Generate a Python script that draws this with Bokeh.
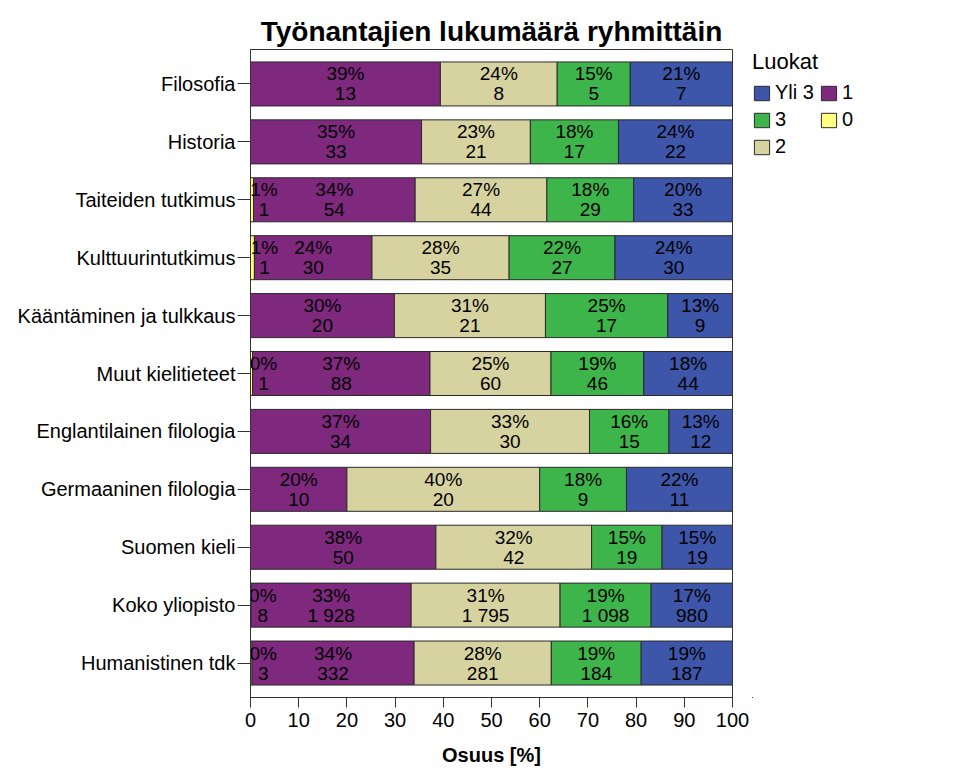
from bokeh.plotting import figure
from bokeh.layouts import row
from bokeh.models import ColumnDataSource, FactorRange, FixedTicker, Legend, LegendItem, Range1d
from bokeh.core.properties import value
from bokeh.embed import file_html
from bokeh.resources import INLINE

# ---- data ----
categories = ["Filosofia", "Historia", "Taiteiden tutkimus", "Kulttuurintutkimus",
              "Kääntäminen ja tulkkaus", "Muut kielitieteet", "Englantilainen filologia",
              "Germaaninen filologia", "Suomen kieli", "Koko yliopisto", "Humanistinen tdk"]
count_0 = [0, 0, 1, 1, 0, 1, 0, 0, 0, 8, 3]
count_1 = [13, 33, 54, 30, 20, 88, 34, 10, 50, 1928, 332]
count_2 = [8, 21, 44, 35, 21, 60, 30, 20, 42, 1795, 281]
count_3 = [5, 17, 29, 27, 17, 46, 15, 9, 19, 1098, 184]
count_yli3 = [7, 22, 33, 30, 9, 44, 12, 11, 19, 980, 187]
class_names = ["0", "1", "2", "3", "Yli 3"]
class_colors = ["#FFFF80", "#7E287E", "#D6D3A1", "#3DB54A", "#3D56AA"]
x_ticks = [0, 10, 20, 30, 40, 50, 60, 70, 80, 90, 100]

series = [count_0, count_1, count_2, count_3, count_yli3]
totals = [sum(s[i] for s in series) for i in range(len(categories))]

FONT = "Liberation Sans"
H = 768

p = figure(width=752, height=H, output_backend="svg", toolbar_location=None,
           y_range=FactorRange(factors=categories[::-1], range_padding=0.0173),
           x_range=Range1d(0, 100),
           min_border_left=250, min_border_right=20, min_border_top=49, min_border_bottom=71)

p.title.text = "Työnantajien lukumäärä ryhmittäin"
p.title.align = "center"
p.title.text_font = FONT
p.title.text_font_size = "28px"
p.title.text_font_style = "bold"
p.title.text_color = "black"
p.title.standoff = 5

def fmt(n):
    return f"{n:,}".replace(",", " ")

bar_sources = {}
label_sources = []
cum = [0.0] * len(categories)
for name, counts, color in zip(class_names, series, class_colors):
    left, right, cats = [], [], []
    lab_mid, lab_cat, lab_p, lab_c = [], [], [], []
    for i, c in enumerate(categories):
        pct = 100.0 * counts[i] / totals[i]
        l = cum[i]
        r = l + pct
        cum[i] = r
        left.append(l); right.append(r); cats.append(c)
        if counts[i] > 0:
            lab_mid.append((l + r) / 2); lab_cat.append(c)
            lab_p.append(f"{pct:.0f}%"); lab_c.append(fmt(counts[i]))
    src = ColumnDataSource(dict(cat=cats, left=left, right=right))
    bar_sources[name] = (src, color)
    p.hbar(y="cat", left="left", right="right", height=0.76, source=src,
           fill_color=color, line_color="#2a2a2a", line_width=1)
    label_sources.append((name, ColumnDataSource(dict(cat=lab_cat, mid=lab_mid, pct=lab_p, cnt=lab_c))))

for name, lsrc in label_sources:
    # labels of the very thin first segment are nudged right, as in the original
    xo = 12 if name == "0" else 0
    p.text(x="mid", y="cat", text="pct", source=lsrc, text_align="center",
           text_baseline="middle", x_offset=xo, y_offset=-10, text_font=value(FONT),
           text_font_size="19px", text_color="black")
    p.text(x="mid", y="cat", text="cnt", source=lsrc, text_align="center",
           text_baseline="middle", x_offset=xo, y_offset=10, text_font=value(FONT),
           text_font_size="19px", text_color="black")

# axes
p.xgrid.visible = False
p.ygrid.visible = False
p.outline_line_color = "#333333"
p.outline_line_width = 1

p.xaxis.ticker = FixedTicker(ticks=x_ticks)
p.xaxis.major_tick_out = 10
p.xaxis.major_tick_in = 0
p.xaxis.minor_tick_out = 0
p.xaxis.minor_tick_in = 0
p.xaxis.axis_line_color = "#333333"
p.xaxis.major_tick_line_color = "#333333"
p.xaxis.major_label_text_font = FONT
p.xaxis.major_label_text_font_size = "20px"
p.xaxis.major_label_text_color = "black"
p.xaxis.major_label_standoff = 5
p.xaxis.axis_label = "Osuus [%]"
p.xaxis.axis_label_text_font = FONT
p.xaxis.axis_label_text_font_size = "20px"
p.xaxis.axis_label_text_font_style = "bold"
p.xaxis.axis_label_text_color = "black"
p.xaxis.axis_label_standoff = 14

p.yaxis.major_tick_out = 13
p.yaxis.major_tick_in = 0
p.yaxis.axis_line_color = "#333333"
p.yaxis.major_tick_line_color = "#333333"
p.yaxis.major_label_text_font = FONT
p.yaxis.major_label_text_font_size = "20px"
p.yaxis.major_label_text_color = "black"
p.yaxis.major_label_standoff = 2

# legend panel: a second figure right next to the chart.
# Its swatch renderers reuse the bar sources but lie entirely outside its ranges.
lg = figure(width=200, height=H, output_backend="svg", toolbar_location=None,
            x_range=Range1d(200, 300), y_range=Range1d(200, 300),
            min_border_left=0, min_border_right=0, min_border_top=49, min_border_bottom=0,
            x_axis_type=None, y_axis_type=None)
lg.xgrid.visible = False
lg.ygrid.visible = False
lg.outline_line_color = None

order = ["Yli 3", "3", "2", "1", "0"]
items = []
for n in order:
    src, color = bar_sources[n]
    r = lg.hbar(y="right", left="left", right="right", height=1, source=src,
                fill_color=color, line_color="#2a2a2a", line_width=1)
    items.append(LegendItem(label=n, renderers=[r]))

legend = Legend(items=items, location="top_left", nrows=3, orientation="vertical",
                title="Luokat", title_text_font=FONT, title_text_font_size="22px",
                title_text_font_style="normal", title_text_color="black", title_standoff=6,
                label_text_font=FONT, label_text_font_size="20px", label_text_color="black",
                glyph_width=19, glyph_height=18, label_standoff=4, label_width=40,
                label_height=20, spacing=4, padding=1, margin=0,
                border_line_color=None, background_fill_alpha=0)
lg.add_layout(legend)

layout = row(p, lg)
open("out.html", "w").write(file_html(layout, INLINE))
